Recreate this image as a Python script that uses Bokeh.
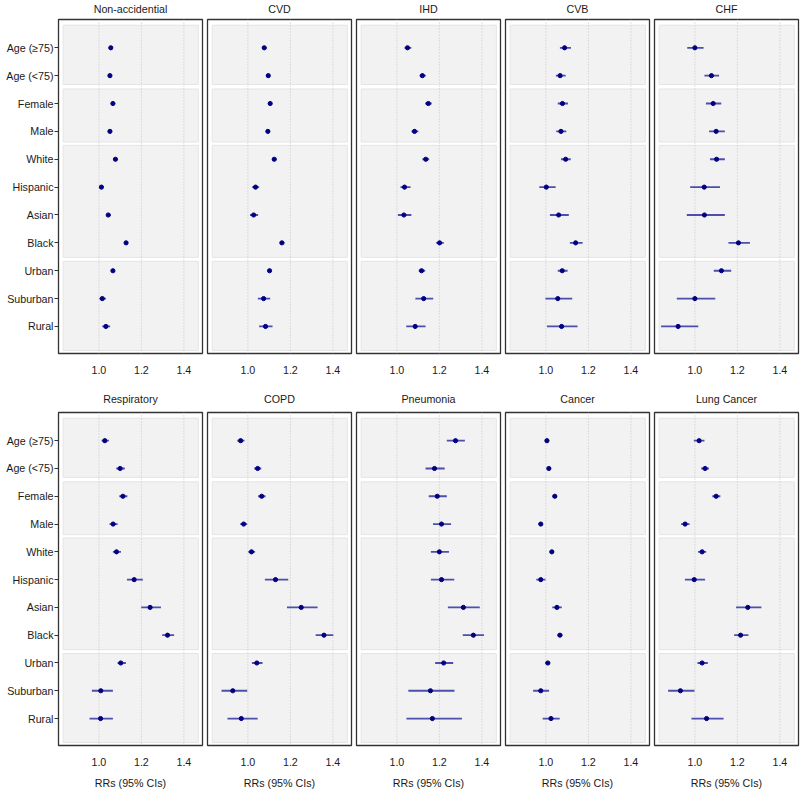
from bokeh.plotting import figure
from bokeh.layouts import column, row
from bokeh.models import Range1d, FixedTicker, PrintfTickFormatter
from bokeh.embed import file_html
from bokeh.resources import INLINE

# ---------------- data ----------------
ROW_LABELS = ["Age (\u226575)", "Age (<75)", "Female", "Male", "White", "Hispanic",
              "Asian", "Black", "Urban", "Suburban", "Rural"]
XTICKS = [1.0, 1.2, 1.4]

OUTCOMES_TOP = ["Non-accidential", "CVD", "IHD", "CVB", "CHF"]
OUTCOMES_BOTTOM = ["Respiratory", "COPD", "Pneumonia", "Cancer", "Lung Cancer"]

NONACC_RR = [1.056, 1.052, 1.066, 1.052, 1.078, 1.012, 1.044, 1.128, 1.066, 1.016, 1.033]
NONACC_LO = [1.050, 1.047, 1.060, 1.046, 1.072, 1.003, 1.035, 1.120, 1.060, 1.003, 1.016]
NONACC_HI = [1.062, 1.057, 1.072, 1.058, 1.084, 1.022, 1.055, 1.137, 1.072, 1.033, 1.053]

CVD_RR = [1.077, 1.096, 1.105, 1.094, 1.124, 1.036, 1.027, 1.160, 1.102, 1.074, 1.083]
CVD_LO = [1.068, 1.088, 1.097, 1.086, 1.115, 1.020, 1.010, 1.150, 1.094, 1.047, 1.053]
CVD_HI = [1.088, 1.104, 1.113, 1.102, 1.134, 1.053, 1.048, 1.172, 1.110, 1.105, 1.116]

IHD_RR = [1.050, 1.120, 1.148, 1.083, 1.136, 1.036, 1.033, 1.201, 1.116, 1.126, 1.086]
IHD_LO = [1.036, 1.107, 1.133, 1.069, 1.120, 1.017, 1.005, 1.185, 1.103, 1.087, 1.044]
IHD_HI = [1.068, 1.136, 1.164, 1.101, 1.152, 1.064, 1.068, 1.221, 1.133, 1.171, 1.135]

CVB_RR = [1.088, 1.067, 1.078, 1.071, 1.093, 1.002, 1.060, 1.140, 1.077, 1.056, 1.074]
CVB_LO = [1.066, 1.047, 1.056, 1.049, 1.071, 0.969, 1.019, 1.113, 1.056, 0.998, 1.005]
CVB_HI = [1.118, 1.093, 1.104, 1.096, 1.117, 1.046, 1.108, 1.173, 1.102, 1.124, 1.149]

CHF_RR = [1.000, 1.078, 1.086, 1.100, 1.102, 1.044, 1.045, 1.205, 1.125, 1.000, 0.921]
CHF_LO = [0.964, 1.045, 1.052, 1.067, 1.071, 0.978, 0.962, 1.158, 1.089, 0.915, 0.841]
CHF_HI = [1.041, 1.114, 1.124, 1.141, 1.141, 1.118, 1.141, 1.259, 1.171, 1.096, 1.016]

RESP_RR = [1.028, 1.100, 1.113, 1.067, 1.083, 1.166, 1.241, 1.323, 1.103, 1.009, 1.008]
RESP_LO = [1.013, 1.082, 1.096, 1.050, 1.066, 1.132, 1.199, 1.298, 1.088, 0.967, 0.956]
RESP_HI = [1.047, 1.122, 1.134, 1.088, 1.104, 1.207, 1.292, 1.354, 1.127, 1.066, 1.066]

COPD_RR = [0.966, 1.046, 1.065, 0.980, 1.017, 1.130, 1.251, 1.358, 1.042, 0.929, 0.969]
COPD_LO = [0.950, 1.030, 1.048, 0.964, 1.002, 1.080, 1.184, 1.319, 1.019, 0.876, 0.904]
COPD_HI = [0.984, 1.063, 1.083, 0.997, 1.034, 1.190, 1.328, 1.402, 1.069, 0.997, 1.046]

PNEU_RR = [1.276, 1.177, 1.190, 1.210, 1.200, 1.210, 1.313, 1.360, 1.220, 1.158, 1.167]
PNEU_LO = [1.235, 1.135, 1.150, 1.170, 1.160, 1.160, 1.240, 1.310, 1.180, 1.054, 1.045]
PNEU_HI = [1.320, 1.225, 1.235, 1.255, 1.245, 1.270, 1.390, 1.410, 1.265, 1.271, 1.306]

CANCER_RR = [1.005, 1.014, 1.042, 0.976, 1.028, 0.976, 1.052, 1.066, 1.009, 0.976, 1.024]
CANCER_LO = [0.995, 1.004, 1.032, 0.966, 1.018, 0.955, 1.030, 1.055, 0.998, 0.940, 0.985]
CANCER_HI = [1.015, 1.024, 1.052, 0.986, 1.038, 0.998, 1.075, 1.078, 1.020, 1.015, 1.065]

LUNG_RR = [1.020, 1.048, 1.100, 0.954, 1.034, 0.997, 1.249, 1.215, 1.034, 0.932, 1.055]
LUNG_LO = [0.995, 1.030, 1.082, 0.935, 1.015, 0.953, 1.194, 1.185, 1.012, 0.874, 0.984]
LUNG_HI = [1.045, 1.066, 1.120, 0.975, 1.053, 1.048, 1.313, 1.252, 1.061, 0.998, 1.135]

TOP_DATA = [(NONACC_RR, NONACC_LO, NONACC_HI), (CVD_RR, CVD_LO, CVD_HI),
            (IHD_RR, IHD_LO, IHD_HI), (CVB_RR, CVB_LO, CVB_HI), (CHF_RR, CHF_LO, CHF_HI)]
BOTTOM_DATA = [(RESP_RR, RESP_LO, RESP_HI), (COPD_RR, COPD_LO, COPD_HI),
               (PNEU_RR, PNEU_LO, PNEU_HI), (CANCER_RR, CANCER_LO, CANCER_HI),
               (LUNG_RR, LUNG_LO, LUNG_HI)]

# ---------------- style / layout ----------------
FONT = "Liberation Sans"
FS = "10.7px"
TXT = "#1a1a1a"
X_START, X_END = 0.81, 1.4876
Y_BOT, Y_TOP = 11.97, -0.015
BAND_LEFT, BAND_RIGHT = 0.832, 1.468
# shaded blocks (top, bottom) in row units: age, sex, race, urbanicity
BAND_TOPS = [0.19, 2.48, 4.50, 8.66]
BAND_BOTTOMS = [2.32, 4.38, 8.52, 11.86]
FRAME_W = 144


def make_panel(title, rr, lo, hi, col, is_bottom):
    first = col == 0
    bl = 58 if first else 3
    br = 2
    if is_bottom:
        bt, fh, bb = 31, 334, 45
    else:
        bt, fh, bb = 18, 335, 28
    p = figure(width=bl + FRAME_W + br, height=bt + fh + bb,
               x_range=Range1d(X_START, X_END), y_range=Range1d(Y_BOT, Y_TOP),
               output_backend="svg", toolbar_location=None, tools="",
               min_border_left=bl, min_border_right=br,
               min_border_top=bt, min_border_bottom=bb)
    p.background_fill_color = "white"
    p.border_fill_color = "white"
    p.outline_line_color = "#333333"
    p.outline_line_width = 1.3
    p.xgrid.visible = False
    p.ygrid.visible = False

    p.title.text = title
    p.title.align = "center"
    p.title.text_font = FONT
    p.title.text_font_size = FS
    p.title.text_font_style = "normal"
    p.title.text_color = TXT
    if is_bottom:
        p.title.standoff = 16
    else:
        p.title.standoff = 5
        p.title.vertical_align = "top"

    # shaded group blocks
    p.quad(left=[BAND_LEFT] * len(BAND_TOPS), right=[BAND_RIGHT] * len(BAND_TOPS),
           top=BAND_TOPS, bottom=BAND_BOTTOMS, fill_color="#f2f2f2",
           line_color="#e4e4e4", line_width=1)

    # dotted vertical reference lines
    p.segment(x0=XTICKS, x1=XTICKS, y0=[Y_TOP] * len(XTICKS), y1=[Y_BOT] * len(XTICKS),
              line_color="#c4c4c4", line_width=1, line_dash="1 2")

    ys = list(range(1, len(ROW_LABELS) + 1))
    p.segment(x0=lo, x1=hi, y0=ys, y1=ys, line_color="#24249a", line_alpha=0.8,
              line_width=1.8)
    p.scatter(x=rr, y=ys, size=4.2, fill_color="#000080", line_color="#000080")

    xa = p.xaxis[0]
    xa.ticker = FixedTicker(ticks=XTICKS)
    xa.formatter = PrintfTickFormatter(format="%.1f")
    xa.axis_line_color = None
    xa.major_tick_line_color = None
    xa.minor_tick_line_color = None
    xa.major_tick_out = 0
    xa.major_tick_in = 0
    xa.major_label_standoff = 12
    xa.major_label_text_font = FONT
    xa.major_label_text_font_size = FS
    xa.major_label_text_color = TXT
    if is_bottom:
        xa.axis_label = "RRs (95% CIs)"
        xa.axis_label_text_font = FONT
        xa.axis_label_text_font_size = FS
        xa.axis_label_text_font_style = "normal"
        xa.axis_label_text_color = TXT
        xa.axis_label_standoff = 8

    ya = p.yaxis[0]
    if first:
        ya.ticker = FixedTicker(ticks=ys)
        ya.major_label_overrides = {i: lab for i, lab in zip(ys, ROW_LABELS)}
        ya.axis_line_color = None
        ya.minor_tick_line_color = None
        ya.major_tick_line_color = "#333333"
        ya.major_tick_out = 4
        ya.major_tick_in = 0
        ya.major_label_standoff = 1
        ya.major_label_text_font = FONT
        ya.major_label_text_font_size = FS
        ya.major_label_text_color = TXT
    else:
        ya.visible = False
    return p


top_panels = [make_panel(t, *d, i, False) for i, (t, d) in enumerate(zip(OUTCOMES_TOP, TOP_DATA))]
bottom_panels = [make_panel(t, *d, i, True) for i, (t, d) in enumerate(zip(OUTCOMES_BOTTOM, BOTTOM_DATA))]

layout = column(row(*top_panels), row(*bottom_panels))

open("out.html", "w").write(file_html(layout, INLINE))
